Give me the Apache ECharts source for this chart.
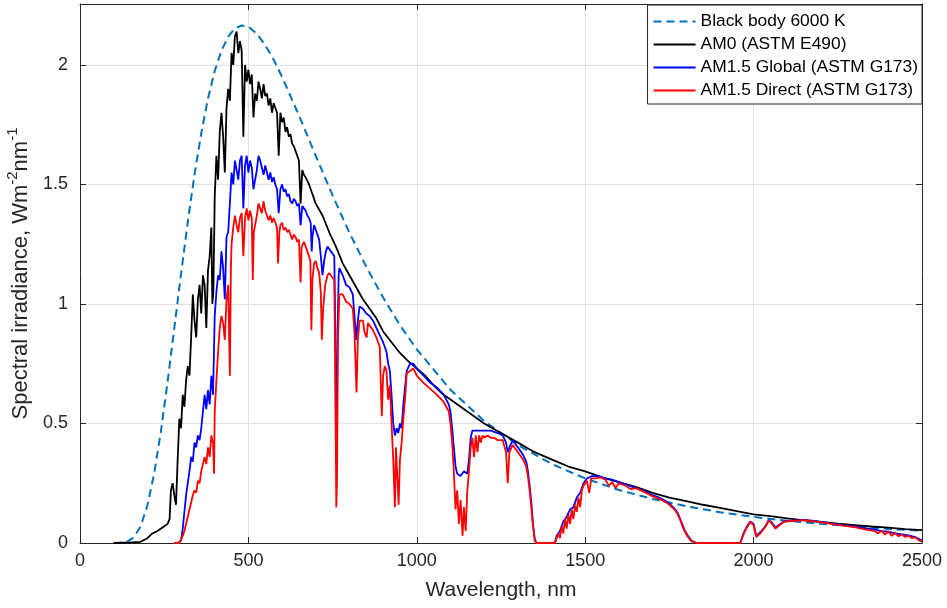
<!DOCTYPE html>
<html>
<head>
<meta charset="utf-8">
<title>Solar spectral irradiance</title>
<script src="https://cdn.jsdelivr.net/npm/echarts@6/dist/echarts.min.js"></script>
<style>
  html, body { margin: 0; padding: 0; background: #ffffff; }
  #chart { width: 947px; height: 608px; }
</style>
</head>
<body>
<div id="chart"></div>
<script>
// Wavelength axis ticks (nm) and irradiance axis ticks (W m^-2 nm^-1)
const xTicks = [0, 500, 1000, 1500, 2000, 2500];
const yTicks = [0, 0.5, 1, 1.5, 2];

const seriesNames = [
  'Black body 6000 K',
  'AM0 (ASTM E490)',
  'AM1.5 Global (ASTM G173)',
  'AM1.5 Direct (ASTM G173)'
];

// Black body at 6000 K, scaled to the Earth's distance: [wavelength nm, irradiance]
const blackBody = [
  [100, 0.000], [120, 0.001], [140, 0.006], [160, 0.024], [180, 0.070], [200, 0.157],
  [220, 0.289], [240, 0.465], [260, 0.673], [280, 0.899], [300, 1.126], [320, 1.342],
  [340, 1.542], [360, 1.714], [380, 1.860], [400, 1.975], [420, 2.060], [440, 2.118],
  [460, 2.153], [480, 2.165], [500, 2.160], [525, 2.131], [550, 2.083], [575, 2.022],
  [600, 1.950], [650, 1.789], [700, 1.620], [750, 1.454], [800, 1.298], [850, 1.156],
  [900, 1.027], [950, 0.911], [1000, 0.810], [1100, 0.641], [1200, 0.510], [1300, 0.410],
  [1400, 0.331], [1500, 0.270], [1600, 0.222], [1700, 0.184], [1800, 0.154], [1900, 0.129],
  [2000, 0.109], [2100, 0.093], [2200, 0.080], [2300, 0.069], [2400, 0.059], [2500, 0.051]
];

// Extraterrestrial spectrum (air mass zero)
const am0 = [
  [100, 0], [150, 0.002], [180, 0.005], [200, 0.02], [215, 0.04], [230, 0.05], [245, 0.065],
  [260, 0.08], [266, 0.10], [270, 0.22], [275, 0.25], [280, 0.20], [285, 0.16], [290, 0.35],
  [295, 0.52], [300, 0.48], [305, 0.62], [310, 0.57], [315, 0.68], [320, 0.74], [325, 0.70],
  [330, 0.86], [335, 1.04], [340, 0.93], [345, 0.86], [350, 1.02], [355, 1.08], [360, 0.96],
  [365, 1.12], [370, 1.08], [375, 0.90], [380, 1.14], [385, 1.20], [390, 1.32], [393, 1.00],
  [396, 1.05], [400, 1.45], [405, 1.62], [410, 1.52], [415, 1.72], [420, 1.80], [425, 1.70],
  [430, 1.55], [435, 1.82], [440, 1.90], [445, 1.85], [450, 2.05], [455, 2.00], [460, 2.12],
  [465, 2.14], [470, 2.05], [475, 2.10], [480, 2.06], [485, 1.70], [490, 2.00], [495, 1.93],
  [500, 1.98], [505, 1.92], [510, 1.96], [515, 1.78], [520, 1.88], [525, 1.85], [530, 1.93],
  [535, 1.90], [540, 1.86], [545, 1.92], [550, 1.87], [555, 1.88], [560, 1.83], [565, 1.86],
  [570, 1.80], [575, 1.84], [580, 1.82], [585, 1.80], [590, 1.62], [595, 1.80], [600, 1.76],
  [605, 1.78], [610, 1.72], [615, 1.74], [620, 1.70], [625, 1.71], [630, 1.67], [635, 1.66],
  [640, 1.64], [645, 1.62], [650, 1.60], [655, 1.42], [660, 1.56], [665, 1.54], [670, 1.53],
  [680, 1.50], [690, 1.46], [700, 1.42], [720, 1.37], [740, 1.30], [760, 1.24], [780, 1.17],
  [800, 1.12], [820, 1.07], [840, 1.02], [860, 0.98], [880, 0.94], [900, 0.885], [925, 0.84],
  [950, 0.795], [975, 0.76], [1000, 0.73], [1025, 0.70], [1050, 0.66], [1075, 0.625],
  [1100, 0.60], [1150, 0.55], [1200, 0.50], [1250, 0.46], [1300, 0.42], [1350, 0.38],
  [1400, 0.35], [1450, 0.32], [1500, 0.30], [1550, 0.275], [1600, 0.255], [1650, 0.235],
  [1700, 0.21], [1750, 0.19], [1800, 0.175], [1850, 0.16], [1900, 0.147], [1950, 0.133],
  [2000, 0.12], [2050, 0.112], [2100, 0.103], [2150, 0.095], [2200, 0.088], [2250, 0.081],
  [2300, 0.075], [2350, 0.069], [2400, 0.064], [2450, 0.058], [2500, 0.054]
];

// Terrestrial global spectrum, air mass 1.5
const am15Global = [
  [280, 0], [290, 0], [295, 0.002], [300, 0.01], [305, 0.06], [310, 0.13], [315, 0.20],
  [320, 0.25], [325, 0.30], [330, 0.36], [335, 0.34], [340, 0.42], [345, 0.40], [350, 0.45],
  [355, 0.43], [360, 0.48], [365, 0.55], [370, 0.62], [375, 0.56], [380, 0.64], [385, 0.58],
  [390, 0.70], [395, 0.62], [400, 0.95], [405, 1.05], [410, 1.12], [415, 1.10], [420, 1.22],
  [425, 1.15], [430, 1.02], [435, 1.28], [440, 1.30], [445, 1.42], [450, 1.55], [455, 1.50],
  [460, 1.60], [465, 1.56], [470, 1.52], [475, 1.60], [480, 1.62], [485, 1.40], [490, 1.58],
  [495, 1.62], [500, 1.55], [505, 1.60], [510, 1.57], [515, 1.48], [520, 1.52], [525, 1.56],
  [530, 1.62], [535, 1.60], [540, 1.57], [545, 1.54], [550, 1.58], [555, 1.55], [560, 1.52],
  [565, 1.55], [570, 1.51], [575, 1.53], [580, 1.50], [585, 1.48], [590, 1.38], [595, 1.48],
  [600, 1.50], [605, 1.47], [610, 1.48], [615, 1.45], [620, 1.46], [625, 1.43], [630, 1.42],
  [635, 1.44], [640, 1.43], [645, 1.41], [650, 1.42], [655, 1.33], [660, 1.41], [665, 1.40],
  [670, 1.39], [675, 1.37], [680, 1.36], [685, 1.34], [688, 1.22], [690, 1.28], [695, 1.33],
  [700, 1.31], [705, 1.29], [710, 1.27], [715, 1.20], [720, 1.12], [725, 1.18], [730, 1.22],
  [735, 1.24], [740, 1.23], [745, 1.22], [750, 1.21], [755, 1.20], [758, 0.90], [760, 0.35],
  [762, 0.45], [765, 0.90], [768, 1.12], [770, 1.15], [780, 1.12], [790, 1.08], [800, 1.07],
  [810, 1.04], [815, 0.95], [820, 0.85], [825, 0.93], [830, 0.99], [840, 0.98], [850, 0.96],
  [860, 0.95], [870, 0.93], [880, 0.90], [890, 0.87], [900, 0.84], [910, 0.80], [915, 0.75],
  [920, 0.72], [925, 0.62], [930, 0.50], [935, 0.45], [940, 0.48], [945, 0.46], [950, 0.50],
  [955, 0.48], [960, 0.58], [965, 0.65], [970, 0.72], [980, 0.75], [990, 0.75], [1000, 0.73],
  [1020, 0.70], [1040, 0.67], [1060, 0.65], [1080, 0.62], [1095, 0.58], [1100, 0.55],
  [1105, 0.48], [1110, 0.40], [1115, 0.32], [1120, 0.29], [1130, 0.28], [1140, 0.30],
  [1150, 0.29], [1155, 0.35], [1160, 0.44], [1165, 0.47], [1180, 0.47], [1200, 0.47],
  [1220, 0.47], [1240, 0.46], [1255, 0.45], [1265, 0.42], [1270, 0.38], [1275, 0.40],
  [1285, 0.43], [1295, 0.41], [1305, 0.39], [1315, 0.37], [1325, 0.34], [1330, 0.30],
  [1335, 0.24], [1340, 0.17], [1345, 0.08], [1350, 0.02], [1355, 0], [1410, 0], [1415, 0.03],
  [1425, 0.05], [1435, 0.09], [1445, 0.11], [1455, 0.14], [1465, 0.15], [1475, 0.19],
  [1485, 0.21], [1495, 0.25], [1505, 0.27], [1520, 0.28], [1540, 0.28], [1560, 0.27],
  [1580, 0.265], [1600, 0.255], [1620, 0.245], [1640, 0.235], [1660, 0.225], [1680, 0.215],
  [1700, 0.20], [1720, 0.19], [1740, 0.175], [1750, 0.165], [1765, 0.145], [1775, 0.125],
  [1785, 0.09], [1795, 0.055], [1805, 0.03], [1815, 0.01], [1830, 0], [1960, 0], [1970, 0.04],
  [1980, 0.07], [1990, 0.09], [2000, 0.08], [2008, 0.03], [2020, 0.045], [2035, 0.07],
  [2045, 0.096], [2055, 0.085], [2065, 0.065], [2075, 0.075], [2090, 0.09], [2120, 0.095],
  [2150, 0.097], [2180, 0.092], [2210, 0.086], [2240, 0.08], [2270, 0.074], [2300, 0.069],
  [2330, 0.062], [2360, 0.056], [2380, 0.05], [2400, 0.048], [2420, 0.04], [2440, 0.036],
  [2460, 0.032], [2480, 0.025], [2500, 0.01]
];

// Terrestrial direct + circumsolar spectrum, air mass 1.5
const am15Direct = [
  [280, 0], [295, 0], [300, 0.005], [305, 0.03], [310, 0.05], [315, 0.08], [320, 0.11],
  [325, 0.14], [330, 0.17], [335, 0.20], [340, 0.22], [345, 0.21], [350, 0.26], [355, 0.25],
  [360, 0.30], [365, 0.33], [370, 0.36], [375, 0.33], [380, 0.40], [385, 0.36], [390, 0.45],
  [395, 0.42], [398, 0.29], [400, 0.55], [405, 0.68], [410, 0.80], [415, 0.90], [420, 0.95],
  [425, 0.92], [430, 0.85], [435, 1.02], [440, 1.08], [445, 0.70], [448, 1.15], [450, 1.25],
  [455, 1.32], [460, 1.37], [465, 1.33], [470, 1.30], [475, 1.36], [480, 1.38], [485, 1.20],
  [490, 1.36], [495, 1.40], [500, 1.35], [505, 1.39], [510, 1.36], [513, 1.10], [516, 1.30],
  [520, 1.33], [525, 1.37], [530, 1.42], [535, 1.40], [540, 1.38], [545, 1.43], [550, 1.39],
  [555, 1.37], [560, 1.35], [565, 1.37], [570, 1.34], [575, 1.36], [580, 1.34], [585, 1.32],
  [588, 1.17], [592, 1.30], [595, 1.33], [600, 1.34], [605, 1.31], [610, 1.32], [615, 1.30],
  [620, 1.31], [625, 1.29], [630, 1.27], [635, 1.29], [640, 1.28], [645, 1.26], [650, 1.27],
  [655, 1.09], [658, 1.24], [665, 1.26], [670, 1.24], [675, 1.22], [680, 1.20], [684, 1.18],
  [687, 0.89], [690, 1.10], [695, 1.17], [700, 1.18], [705, 1.15], [710, 1.13], [715, 1.05],
  [718, 0.85], [722, 0.98], [728, 1.08], [735, 1.12], [740, 1.13], [745, 1.12], [750, 1.11],
  [755, 1.10], [758, 0.70], [761, 0.15], [763, 0.25], [766, 0.85], [770, 1.04], [780, 1.04],
  [790, 1.01], [800, 1.00], [810, 0.98], [815, 0.88], [821, 0.63], [825, 0.85], [830, 0.93],
  [840, 0.93], [845, 0.88], [851, 0.86], [855, 0.92], [860, 0.91], [870, 0.89], [880, 0.86],
  [890, 0.82], [896, 0.53], [900, 0.70], [905, 0.74], [910, 0.72], [915, 0.60], [920, 0.66],
  [925, 0.50], [930, 0.35], [935, 0.15], [938, 0.40], [942, 0.28], [946, 0.16], [950, 0.35],
  [955, 0.42], [960, 0.52], [965, 0.60], [970, 0.71], [980, 0.72], [990, 0.73], [1000, 0.70],
  [1020, 0.67], [1040, 0.645], [1060, 0.62], [1080, 0.59], [1095, 0.55], [1100, 0.50],
  [1105, 0.42], [1110, 0.30], [1115, 0.14], [1120, 0.22], [1125, 0.08], [1130, 0.18],
  [1136, 0.03], [1140, 0.15], [1145, 0.05], [1150, 0.22], [1155, 0.30], [1160, 0.40],
  [1165, 0.44], [1170, 0.36], [1175, 0.45], [1180, 0.38], [1185, 0.45], [1190, 0.42],
  [1195, 0.45], [1200, 0.44], [1210, 0.45], [1220, 0.44], [1230, 0.44], [1240, 0.43],
  [1255, 0.43], [1265, 0.38], [1270, 0.25], [1275, 0.38], [1285, 0.41], [1295, 0.39],
  [1305, 0.37], [1315, 0.35], [1325, 0.32], [1330, 0.28], [1335, 0.22], [1340, 0.15],
  [1345, 0.07], [1350, 0.01], [1355, 0], [1410, 0], [1415, 0.02], [1420, 0.04], [1425, 0.02],
  [1430, 0.07], [1435, 0.04], [1440, 0.10], [1445, 0.06], [1450, 0.12], [1455, 0.08],
  [1460, 0.14], [1465, 0.10], [1470, 0.16], [1475, 0.13], [1480, 0.19], [1485, 0.15],
  [1490, 0.22], [1495, 0.24], [1500, 0.25], [1505, 0.26], [1512, 0.21], [1518, 0.27],
  [1530, 0.27], [1545, 0.275], [1560, 0.265], [1570, 0.24], [1580, 0.255], [1590, 0.23],
  [1600, 0.25], [1620, 0.24], [1635, 0.225], [1650, 0.23], [1665, 0.22], [1680, 0.21],
  [1700, 0.195], [1720, 0.185], [1740, 0.17], [1750, 0.16], [1765, 0.14], [1775, 0.12],
  [1785, 0.085], [1795, 0.05], [1805, 0.025], [1815, 0.008], [1830, 0], [1960, 0],
  [1970, 0.035], [1980, 0.065], [1990, 0.088], [2000, 0.075], [2008, 0.025], [2020, 0.04],
  [2035, 0.068], [2045, 0.094], [2055, 0.08], [2065, 0.06], [2075, 0.072], [2090, 0.089],
  [2120, 0.093], [2150, 0.096], [2180, 0.09], [2210, 0.085], [2240, 0.078], [2270, 0.072],
  [2300, 0.066], [2320, 0.06], [2340, 0.055], [2360, 0.05], [2370, 0.04], [2380, 0.052],
  [2390, 0.035], [2400, 0.048], [2410, 0.03], [2420, 0.042], [2430, 0.028], [2440, 0.036],
  [2450, 0.025], [2460, 0.03], [2470, 0.02], [2480, 0.024], [2490, 0.012], [2500, 0.005]
];

const seriesColors = ['#0072BD', '#000000', '#0000FF', '#FF0000'];
const seriesData = [blackBody, am0, am15Global, am15Direct];

const FONT = '"Liberation Sans", Arial, Helvetica, sans-serif';
const AXIS_COLOR = '#262626';
const GRID_COLOR = '#e0e0e0';

const xMin = xTicks[0], xMax = xTicks[xTicks.length - 1];
const xStep = xTicks[1] - xTicks[0];
const yMin = yTicks[0], yStep = yTicks[1] - yTicks[0];
const yMax = 2.255;

const chart = echarts.init(document.getElementById('chart'), null, { renderer: 'canvas' });

// Axes used only to close the plot box (top and right), with inward ticks
const boxAxis = (extra) => Object.assign({
  type: 'value',
  axisLine: { show: true, onZero: false, lineStyle: { color: AXIS_COLOR, width: 1 } },
  axisTick: { show: true, inside: true, length: 6, lineStyle: { color: AXIS_COLOR } },
  axisLabel: { show: false },
  splitLine: { show: false }
}, extra);

const option = {
  animation: false,
  backgroundColor: '#ffffff',
  textStyle: { fontFamily: FONT },
  grid: { left: 80, right: 25, top: 4, bottom: 65, containLabel: false, outerBoundsMode: 'none' },
  legend: {
    orient: 'vertical',
    right: 25,
    top: 5,
    data: seriesNames,
    itemWidth: 42,
    itemHeight: 16,
    itemGap: 6,
    padding: [8, 4, 5, 5],
    backgroundColor: '#ffffff',
    borderColor: AXIS_COLOR,
    borderWidth: 1,
    borderRadius: 0,
    itemStyle: { opacity: 0 },
    textStyle: { fontFamily: FONT, fontSize: 17.4, color: '#000000' }
  },
  xAxis: [
    boxAxis({
      position: 'bottom',
      min: xMin, max: xMax, interval: xStep,
      name: 'Wavelength, nm',
      nameLocation: 'middle',
      nameGap: 37,
      nameTextStyle: { fontFamily: FONT, fontSize: 21, color: AXIS_COLOR },
      axisLabel: {
        show: true, margin: 9, fontFamily: FONT, fontSize: 18, color: AXIS_COLOR,
        formatter: (v) => String(v)
      },
      splitLine: { show: true, lineStyle: { color: GRID_COLOR, width: 1 } }
    }),
    boxAxis({ position: 'top', min: xMin, max: xMax, interval: xStep })
  ],
  yAxis: [
    boxAxis({
      position: 'left',
      min: yMin, max: yMax, interval: yStep,
      name: '{a|Spectral irradiance, Wm}{s|-2}{a|nm}{s|-1}',
      nameLocation: 'middle',
      nameRotate: 90,
      nameGap: 43,
      nameTextStyle: {
        fontFamily: FONT, color: AXIS_COLOR,
        rich: {
          a: { fontFamily: FONT, fontSize: 22, color: AXIS_COLOR, lineHeight: 27, verticalAlign: 'bottom' },
          s: { fontFamily: FONT, fontSize: 15, color: AXIS_COLOR, lineHeight: 27, verticalAlign: 'top' }
        }
      },
      axisLabel: {
        show: true, margin: 12, fontFamily: FONT, fontSize: 18, color: AXIS_COLOR,
        formatter: (v) => (yTicks.indexOf(v) >= 0 ? String(v) : '')
      },
      splitLine: { show: true, lineStyle: { color: GRID_COLOR, width: 1 } }
    }),
    boxAxis({ position: 'right', min: yMin, max: yMax, interval: yStep })
  ],
  series: seriesNames.map((name, i) => ({
    name: name,
    type: 'line',
    xAxisIndex: 0,
    yAxisIndex: 0,
    data: seriesData[i],
    symbol: 'none',
    showSymbol: false,
    smooth: false,
    clip: true,
    z: 2 + i,
    color: seriesColors[i],
    lineStyle: {
      color: seriesColors[i],
      width: i === 0 ? 2 : 1.8,
      type: i === 0 ? [8, 5] : 'solid'
    }
  }))
};

chart.setOption(option);
</script>
</body>
</html>
